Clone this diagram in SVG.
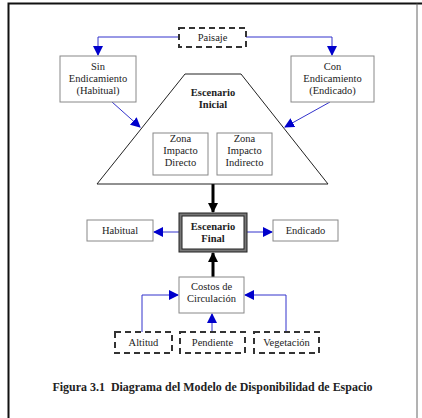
<svg xmlns="http://www.w3.org/2000/svg" width="422" height="418" viewBox="0 0 422 418">
<style>
text{font-family:"Liberation Serif","Times New Roman",serif;font-size:10.5px;fill:#222;text-anchor:middle}
.b{font-weight:bold}
.box{fill:#fff;stroke:#888;stroke-width:1}
.dash{fill:#fff;stroke:#333;stroke-width:2;stroke-dasharray:6,4}
.blue{fill:none;stroke:#3333cc;stroke-width:1}
.blk{fill:none;stroke:#000;stroke-width:3}
</style>
<defs>
<marker id="ab" markerWidth="10" markerHeight="10" refX="9" refY="5" orient="auto" markerUnits="userSpaceOnUse"><path d="M0,0 L10,5 L0,10 z" fill="#0000cc"/></marker>
<marker id="ak" markerWidth="10" markerHeight="10" refX="9" refY="5" orient="auto" markerUnits="userSpaceOnUse"><path d="M0,0 L10,5 L0,10 z" fill="#000"/></marker>
</defs>
<rect x="0" y="0" width="422" height="418" fill="#fff"/>
<g id="frame" fill="none" stroke="#111" stroke-width="2">
<path d="M8.5,418 L8.5,3.5 L422,3.5"/>
<path d="M417,3.5 L417,418" stroke="#666" stroke-width="1"/>
</g>
<g id="connectors">
<path class="blue" d="M179,37 H98 V55" marker-end="url(#ab)"/>
<path class="blue" d="M246,37 H332 V55" marker-end="url(#ab)"/>
<path class="blue" d="M112,102 L140,127" marker-end="url(#ab)"/>
<path class="blue" d="M330,102 L285,127" marker-end="url(#ab)"/>
<path class="blk" d="M213,184 V212" marker-end="url(#ak)"/>
<path class="blk" d="M213,277 V253" marker-end="url(#ak)"/>
<path class="blue" d="M179,232 H154" marker-end="url(#ab)"/>
<path class="blue" d="M247,232 H272" marker-end="url(#ab)"/>
<path class="blue" d="M142,332 V295 H178" marker-end="url(#ab)"/>
<path class="blue" d="M212,332 V314" marker-end="url(#ab)"/>
<path class="blue" d="M286,332 V295 H245" marker-end="url(#ab)"/>
</g>
<g id="paisaje"><rect class="dash" x="179" y="28" width="67" height="19"/><text x="212.5" y="41">Paisaje</text></g>
<g id="sin"><rect class="box" x="60" y="56" width="76" height="46"/><text x="98" y="70">Sin</text><text x="98" y="82">Endicamiento</text><text x="98" y="94">(Habitual)</text></g>
<g id="con"><rect class="box" x="291" y="56" width="83" height="46"/><text x="332.5" y="70">Con</text><text x="332.5" y="82">Endicamiento</text><text x="332.5" y="94">(Endicado)</text></g>
<g id="inicial"><path d="M185,74 L241,74 L328,184 L97,184 Z" fill="#fff" stroke="#222" stroke-width="1"/><text class="b" x="213" y="96">Escenario</text><text class="b" x="213" y="108">Inicial</text></g>
<g id="directo"><rect class="box" x="153" y="133" width="55" height="42"/><text x="180.5" y="142">Zona</text><text x="180.5" y="154">Impacto</text><text x="180.5" y="166">Directo</text></g>
<g id="indirecto"><rect class="box" x="217" y="133" width="55" height="42"/><text x="244.5" y="142">Zona</text><text x="244.5" y="154">Impacto</text><text x="244.5" y="166">Indirecto</text></g>
<g id="final"><rect x="180.5" y="214.5" width="65" height="36" fill="#fff" stroke="#777" stroke-width="3"/><rect x="179" y="213" width="68" height="39" fill="none" stroke="#222" stroke-width="1"/><rect x="182" y="216" width="62" height="33" fill="none" stroke="#222" stroke-width="1"/><text class="b" x="213" y="230">Escenario</text><text class="b" x="213" y="242">Final</text></g>
<g id="habitual"><rect class="box" x="87" y="220" width="66" height="21"/><text x="120" y="234">Habitual</text></g>
<g id="endicado"><rect class="box" x="273" y="220" width="65" height="21"/><text x="305.5" y="234">Endicado</text></g>
<g id="costos"><rect class="box" x="179" y="277" width="65" height="36"/><text x="211.5" y="290">Costos de</text><text x="211.5" y="302">Circulación</text></g>
<g id="altitud"><rect class="dash" x="115" y="332" width="57" height="21"/><text x="143.5" y="346">Altitud</text></g>
<g id="pendiente"><rect class="dash" x="180" y="332" width="65" height="21"/><text x="212.5" y="346">Pendiente</text></g>
<g id="vegetacion"><rect class="dash" x="254" y="332" width="65" height="21"/><text x="286.5" y="346">Vegetación</text></g>
<text class="b" x="212.5" y="391" style="font-size:12px" textLength="320" lengthAdjust="spacingAndGlyphs" xml:space="preserve">Figura 3.1  Diagrama del Modelo de Disponibilidad de Espacio</text>
</svg>
